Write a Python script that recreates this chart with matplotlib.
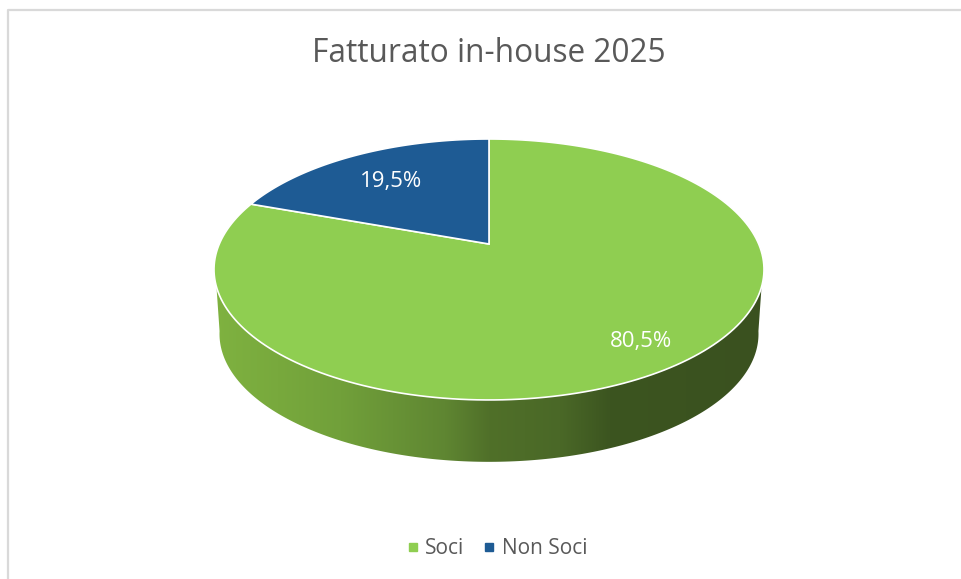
import numpy as np
from matplotlib import pyplot as plt
from matplotlib.colors import LinearSegmentedColormap
from matplotlib.lines import Line2D

plt.rcParams['font.family'] = ['Open Sans', 'DejaVu Sans']

# values
categories = ['Soci', 'Non Soci']
shares = [80.5, 19.5]
colors = ['#8fce51', '#1e5b94']
label_pos = [(641, 341), (391, 181)]

title = 'Fatturato in-house 2025'

# pie in pixel coordinates, the apex is off centre because of the perspective
APEX_X, APEX_Y = 489, 244
A, B, K = 269.7, 125.5, 0.1953


def rim(deg, scale=1.0, dy=0.0):
    t = np.radians(deg)
    u, v = np.cos(t), np.sin(t)
    w = 1 + K * v
    return APEX_X + scale * A * u / w, APEX_Y + dy - scale * B * v / w


fig = plt.figure(figsize=(9.62, 5.79), dpi=100)
ax = fig.add_axes([0, 0, 1, 1])

# side wall with the gradient, clipped to the front band
top_x, top_y = rim(np.linspace(198.7, 341.3, 200))
bot_x, bot_y = rim(np.linspace(350, 190, 200), 0.98, 65)
wall = ax.fill(np.r_[top_x, bot_x], np.r_[top_y, bot_y], color='none')[0]
wall_cmap = LinearSegmentedColormap.from_list('wall', [
    (0.00, '#7fb240'), (0.23, '#71a03a'), (0.42, '#5f8632'),
    (0.50, '#507029'), (0.63, '#4a6827'), (0.72, '#3c5520'), (1.00, '#3a511f')])
img = ax.imshow(np.linspace(0, 1, 256)[None, :], cmap=wall_cmap, aspect='auto',
                extent=(214, 764, 470, 260), zorder=1)
img.set_clip_path(wall)

# slices, clockwise from twelve o'clock
start = 90
for share, color in zip(shares, colors):
    end = start - share * 3.6
    xs, ys = rim(np.linspace(start, end, 200))
    ax.fill(np.r_[APEX_X, xs], np.r_[APEX_Y, ys], facecolor=color,
            edgecolor='white', linewidth=1.2, zorder=2)
    start = end

for share, (x, y) in zip(shares, label_pos):
    ax.text(x, y, f'{share:.1f}%'.replace('.', ','), color='white', fontsize=16,
            ha='center', va='center', zorder=3)

ax.text(489, 54, title, color='#595959', fontsize=22.8, ha='center', va='center')

# chart frame, only top and left are visible in the crop
ax.plot([8.5, 8.5, 962], [579, 10, 10], color='#d9d9d9', linewidth=1.6, zorder=0)

handles = [Line2D([], [], linestyle='none', marker='s', markersize=6, color=c)
           for c in colors]
ax.legend(handles, categories, ncol=2, frameon=False, loc='center',
          bbox_to_anchor=(497 / 962, 1 - 549 / 579), fontsize=15,
          labelcolor='#595959', handlelength=0.6, handletextpad=0.3,
          columnspacing=0.9)

ax.set_xlim(0, 962)
ax.set_ylim(579, 0)
ax.axis('off')

fig.savefig('out.png', dpi=100)
